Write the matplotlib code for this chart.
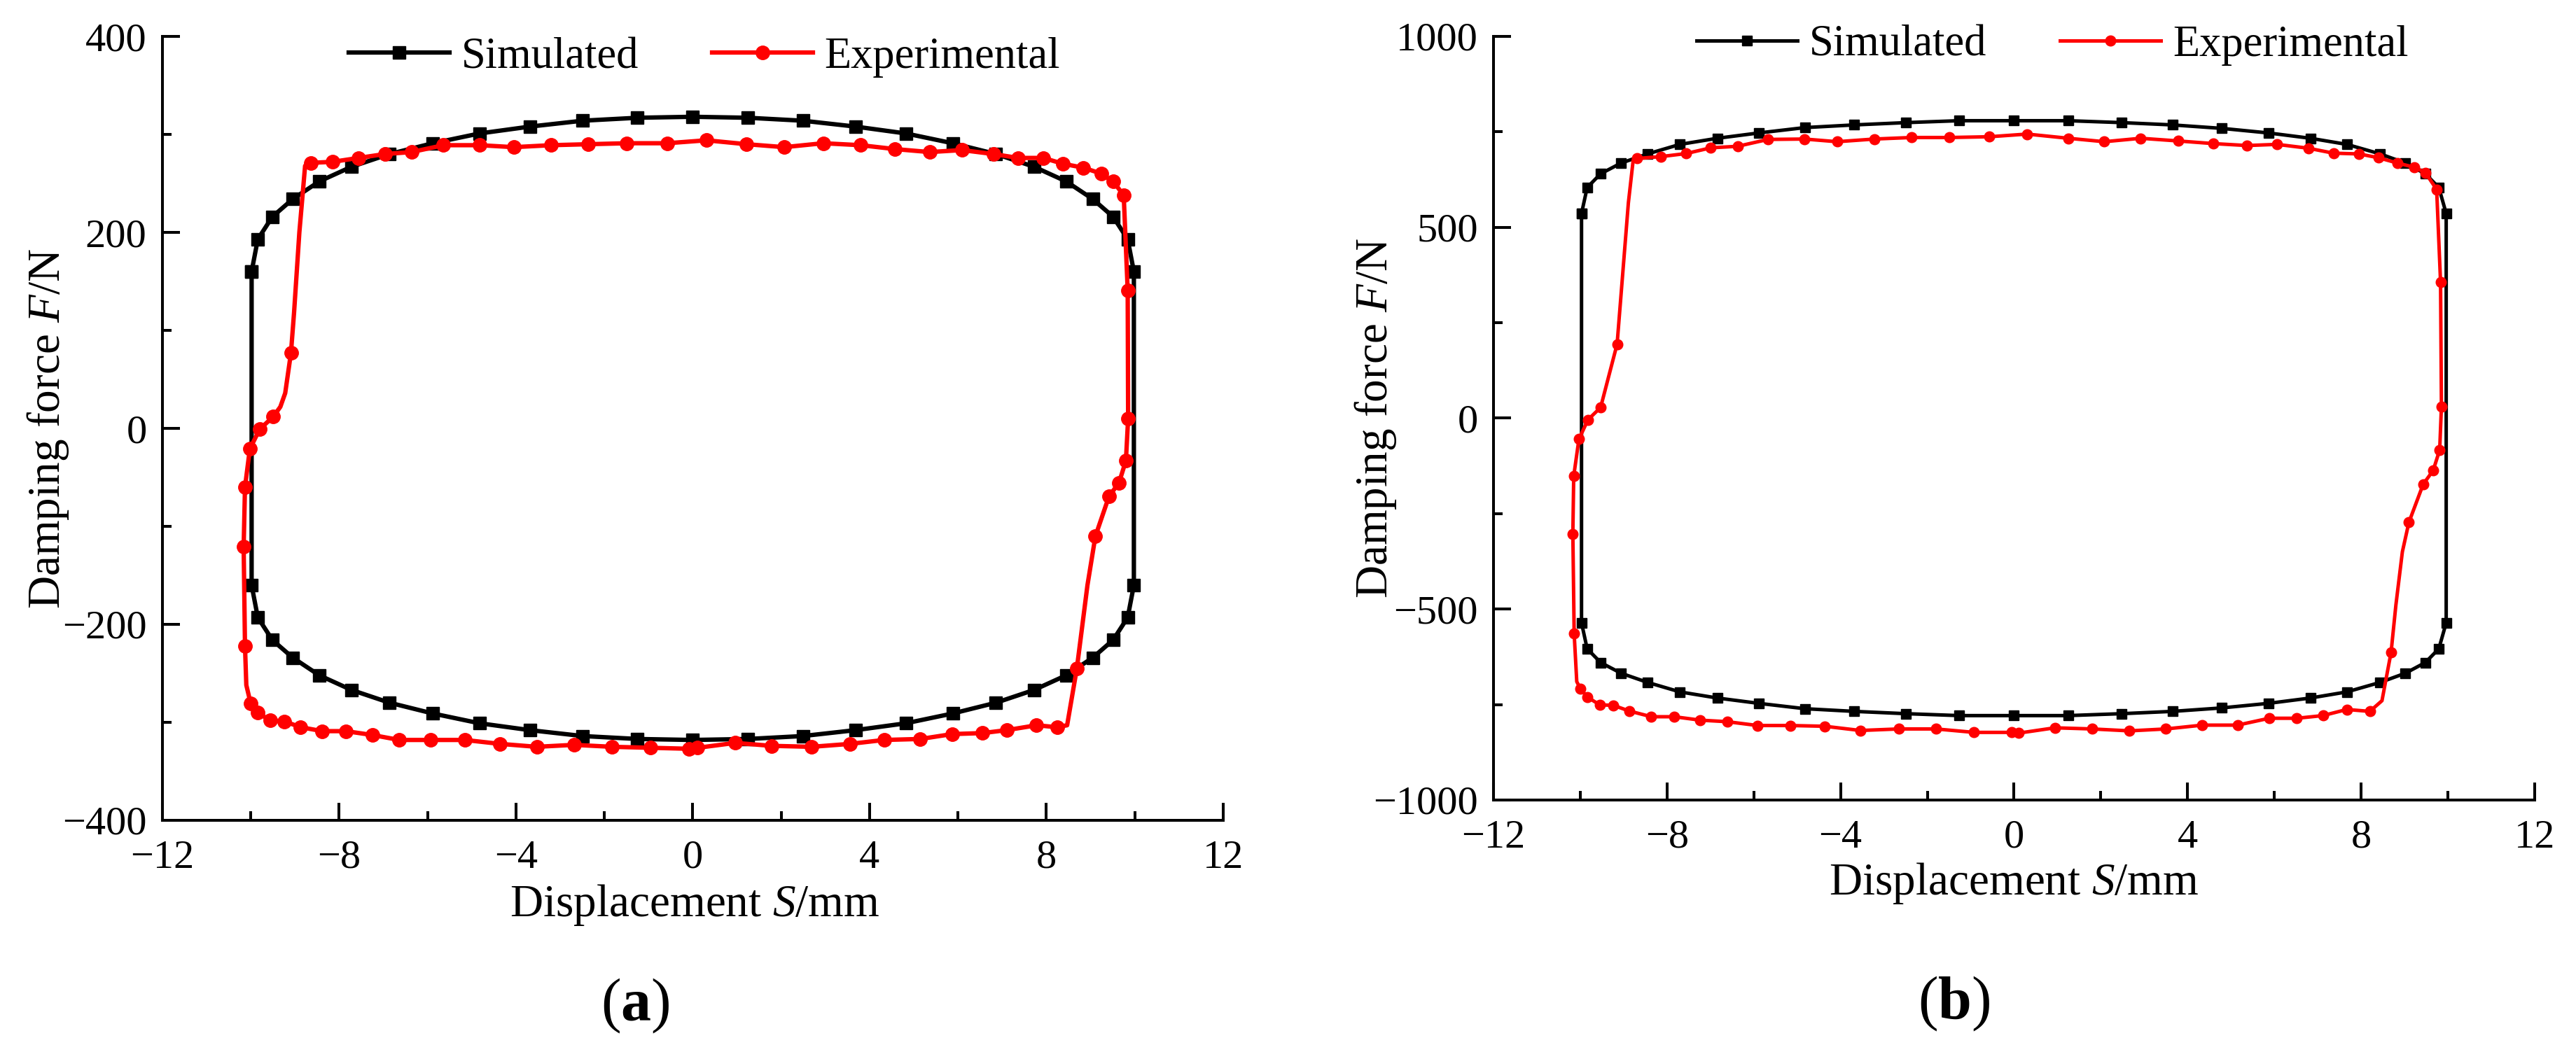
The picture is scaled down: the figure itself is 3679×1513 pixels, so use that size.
import numpy as np
import matplotlib.pyplot as plt
from matplotlib.ticker import MultipleLocator

plt.rcParams['font.family'] = 'serif'
plt.rcParams['font.serif'] = ['Liberation Serif', 'DejaVu Serif']
plt.rcParams['mathtext.fontset'] = 'custom'
plt.rcParams['mathtext.rm'] = 'Liberation Serif'
plt.rcParams['mathtext.it'] = 'Liberation Serif:italic'
plt.rcParams['mathtext.bf'] = 'Liberation Serif:bold'

# ---- panel (a): simulated loop (upper branch, lower branch is mirrored)
sim_a_x = [-9.98, -9.84, -9.51, -9.05, -8.45, -7.72, -6.86, -5.88, -4.82, -3.68, -2.49, -1.25, 0.0,
           1.25, 2.49, 3.68, 4.82, 5.88, 6.86, 7.72, 8.45, 9.05, 9.51, 9.84, 9.98]
sim_a_y = [160, 193, 216, 234, 252, 267, 280, 291, 301, 308, 314, 317, 318,
           317, 314, 308, 301, 291, 280, 267, 252, 234, 216, 193, 160]

# ---- panel (a): experimental loop (flag 1 = point carries a marker)
exp_a_x = [-8.64, -8.15, -7.56, -6.96, -6.36, -5.64, -4.82, -4.05, -3.20, -2.36, -1.49, -0.58, 0.31,
           1.22, 2.07, 2.95, 3.80, 4.58, 5.36, 6.09, 6.80, 7.36, 7.93, 8.38, 8.84, 9.24, 9.51, 9.75,
           9.84, 9.85, 9.80, 9.64, 9.42, 9.11, 8.93, 8.69, 8.47,
           8.24, 7.78, 7.10, 6.55, 5.87, 5.15, 4.33, 3.56, 2.69, 1.78, 0.96, 0.11, -0.09, -0.95, -1.82,
           -2.69, -3.53, -4.36, -5.16, -5.93, -6.64, -7.24, -7.85, -8.38, -8.87, -9.24, -9.56, -9.85, -10.00,
           -10.10, -10.13, -10.16, -10.13, -10.02, -9.80, -9.49, -9.33, -9.22, -9.09, -9.02, -8.90, -8.77, -8.64]
exp_a_y = [271, 272, 276, 280, 282, 289, 289, 287, 289, 290, 291, 291, 294,
           290, 287, 291, 289, 285, 282, 284, 280, 276, 276, 270, 266, 260, 252, 238,
           141, 10, -33, -56, -69, -110, -160, -245, -303,
           -305, -303, -308, -311, -312, -317, -318, -322, -325, -324, -321, -326, -327, -326, -325,
           -323, -325, -322, -318, -318, -318, -313, -309, -309, -305, -299, -298, -290, -281,
           -262, -222, -121, -60, -21, -1, 12, 22, 36, 77, 118, 200, 268, 271]
exp_a_mark = [1] * 28 + [1, 1, 1, 1, 1, 1, 0, 1, 0] + [1] * 29 + [0, 1, 1, 1, 1, 1, 1, 0, 0, 1, 0, 0, 0, 0]

# ---- panel (b): simulated loop
sim_b_x = [-9.97, -9.84, -9.53, -9.06, -8.45, -7.70, -6.84, -5.88, -4.82, -3.68, -2.49, -1.27, 0.0,
           1.25, 2.48, 3.65, 4.78, 5.86, 6.83, 7.67, 8.44, 9.02, 9.48, 9.79, 9.96]
sim_b_y = [536, 604, 640, 668, 692, 717, 733, 747, 761, 768, 774, 779, 779,
           779, 774, 768, 759, 747, 733, 717, 692, 668, 640, 604, 536]

# ---- panel (b): experimental loop
exp_b_x = [-8.69, -8.14, -7.56, -6.99, -6.37, -5.67, -4.83, -4.08, -3.22, -2.37, -1.49, -0.57, 0.30,
           1.25, 2.08, 2.92, 3.78, 4.60, 5.37, 6.06, 6.78, 7.36, 7.95, 8.40, 8.84, 9.23, 9.48, 9.74,
           9.83, 9.85, 9.81, 9.66, 9.43, 9.10, 8.95, 8.80, 8.69, 8.48,
           8.20, 7.67, 7.12, 6.52, 5.88, 5.15, 4.34, 3.50, 2.66, 1.80, 0.94, 0.10, -0.06, -0.92, -1.80,
           -2.66, -3.54, -4.36, -5.16, -5.91, -6.61, -7.23, -7.83, -8.36, -8.87, -9.24, -9.55, -9.84, -10.00,
           -10.08, -10.14, -10.17, -10.15, -10.03, -9.82, -9.53, -9.15, -8.89, -8.78, -8.69]
exp_b_y = [680, 685, 693, 708, 712, 730, 731, 724, 731, 735, 735, 737, 744,
           733, 724, 733, 726, 719, 714, 717, 707, 694, 692, 682, 668, 657, 643, 599,
           356, 30, -83, -137, -173, -273, -350, -490, -613, -740,
           -768, -763, -779, -786, -786, -804, -804, -814, -819, -814, -811, -825, -823, -823, -814,
           -814, -818, -807, -805, -805, -795, -791, -782, -782, -767, -752, -751, -730, -708,
           -690, -564, -303, -152, -55, -4, 28, 194, 564, 675, 680]
exp_b_mark = [1] * 28 + [1, 1, 1, 1, 1, 1, 0, 0, 1, 0] + [1] * 29 + [0, 1, 1, 1, 1, 1, 1, 1, 0, 0, 0]


def closed_sim(xs, ys):
    x = np.array(xs)
    y = np.array(ys)
    lx = np.concatenate([x, x[::-1], x[:1]])
    ly = np.concatenate([y, -y[::-1], y[:1]])
    return lx, ly


def draw_panel(ax, sx, sy, ex, ey, emark, ylim, ymaj, lw, ms, ems, leg_xy):
    lx, ly = closed_sim(sx, sy)
    ax.plot(lx, ly, color='black', lw=lw, marker='s', ms=ms, label='Simulated')
    idx = [i for i, m in enumerate(emark) if m]
    ax.plot(ex, ey, color='#ff0000', lw=lw, marker='o', ms=ems, markevery=idx,
            label='Experimental')

    ax.set_xlim(-12, 12)
    ax.set_ylim(-ylim, ylim)
    ax.xaxis.set_major_locator(MultipleLocator(4))
    ax.xaxis.set_minor_locator(MultipleLocator(2))
    ax.yaxis.set_major_locator(MultipleLocator(ymaj))
    ax.yaxis.set_minor_locator(MultipleLocator(ymaj / 2))
    for s in ['top', 'right']:
        ax.spines[s].set_visible(False)
    for s in ['left', 'bottom']:
        ax.spines[s].set_linewidth(2.9)
    ax.tick_params(which='both', direction='in', width=2.9, labelsize=42)
    ax.tick_params(which='major', length=18)
    ax.tick_params(which='minor', length=9.5)
    ax.tick_params(axis='x', which='major', pad=20)
    ax.tick_params(axis='y', which='major', pad=16)

    ax.set_xlabel('Displacement $S$/mm', fontsize=47)
    ax.set_ylabel('Damping force $F$/N', fontsize=47)
    ax.xaxis.label.set_va('center')
    ax.yaxis.label.set_va('center')

    ax.legend(loc='center', bbox_to_anchor=leg_xy, ncol=2, frameon=False, fontsize=45,
              handlelength=2.3, handletextpad=0.27, columnspacing=1.68, borderpad=0)


fig = plt.figure(figsize=(36.8, 15.13), dpi=100)
ax1 = fig.add_axes([0.0630, 0.2254, 0.4117, 0.7402])
ax2 = fig.add_axes([0.5796, 0.2446, 0.4041, 0.7211])

draw_panel(ax1, sim_a_x, sim_a_y, exp_a_x, exp_a_y, exp_a_mark, 400, 200, 4.5, 13, 14, (0.511, 0.973))
draw_panel(ax2, sim_b_x, sim_b_y, exp_b_x, exp_b_y, exp_b_mark, 1000, 500, 3.6, 10, 10.5, (0.537, 0.988))

ax1.xaxis.set_label_coords(0.502, -0.108)
ax1.yaxis.set_label_coords(-0.1076, 0.5)
ax2.xaxis.set_label_coords(0.5, -0.109)
ax2.yaxis.set_label_coords(-0.113, 0.5)

fig.text(0.2465, 0.05, r'($\mathbf{a}$)', fontsize=62, ha='center', va='center')
fig.text(0.7584, 0.052, r'($\mathbf{b}$)', fontsize=62, ha='center', va='center')

fig.savefig('out.png', dpi=100)
